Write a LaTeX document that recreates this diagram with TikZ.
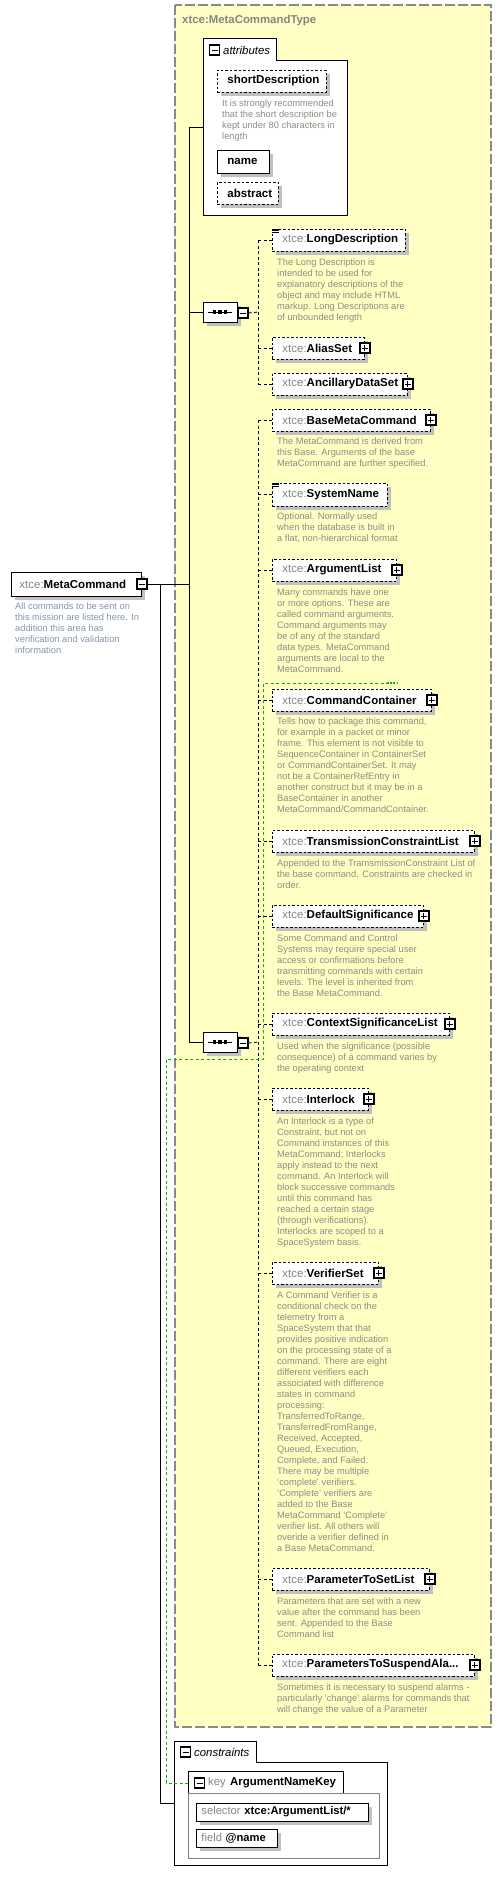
\documentclass[tikz,border=0pt]{standalone}
\usepackage{fontspec}
\setmainfont{Liberation Sans}
\usetikzlibrary{shadows,shapes.misc}

\definecolor{typefill}{HTML}{FFFFC4}
\definecolor{typeedge}{HTML}{8A8A8A}
\definecolor{prefix}{HTML}{858585}
\definecolor{desctext}{HTML}{8E8C84}
\definecolor{descblue}{HTML}{8494B0}
\definecolor{keygreen}{HTML}{00B400}
\definecolor{shadowgray}{HTML}{C0C0C0}

\newcommand{\xname}[1]{{\mdseries\color{prefix}xtce:}#1}

\tikzset{
  boxshadow/.style={drop shadow={shadow xshift=4pt,shadow yshift=-4pt,fill=shadowgray,opacity=1}},
  elem/.style={draw, dash pattern=on 2.5pt off 2pt, line width=0.9pt, fill=white, boxshadow,
    anchor=west, minimum height=22pt, inner xsep=10pt, inner ysep=0pt, align=left,
    text width=#1, font=\fontsize{11.5}{13}\selectfont\bfseries},
  solidelem/.style={elem=#1, solid},
  fieldbox/.style={draw, line width=0.9pt, fill=white, boxshadow, anchor=west,
    minimum height=18pt, inner xsep=5pt, inner ysep=0pt, align=left,
    text width=#1, font=\fontsize{11.2}{13}\selectfont\bfseries},
  desc/.style={anchor=north west, inner sep=0pt, align=left, text=desctext,
    font=\fontsize{9.3}{11}\selectfont, execute at begin node={\strut}},
  iconbox/.style={draw, line width=1.2pt, fill=white, minimum size=10pt, inner sep=0pt},
  minusbox/.style={iconbox,
    path picture={\draw[line width=0.9pt] ([xshift=2pt]path picture bounding box.west)
      -- ([xshift=-2pt]path picture bounding box.east);}},
  plusbox/.style={iconbox,
    path picture={\draw[line width=0.9pt] ([xshift=2pt]path picture bounding box.west)
      -- ([xshift=-2pt]path picture bounding box.east);
      \draw[line width=0.9pt] ([yshift=-2pt]path picture bounding box.north)
      -- ([yshift=2pt]path picture bounding box.south);}},
  seqbox/.style={chamfered rectangle, chamfered rectangle xsep=6pt, chamfered rectangle ysep=6pt,
    draw, line width=0.9pt, fill=white, boxshadow, minimum width=34pt, minimum height=20pt,
    inner sep=0pt},
  docicon/.style={fill=white, minimum width=7pt, minimum height=5pt, inner sep=0pt,
    path picture={\foreach \dy in {-1.6,0,1.6}
      \draw[line width=0.6pt] ([yshift=\dy pt]path picture bounding box.west)
      -- ([yshift=\dy pt]path picture bounding box.east);}},
  typebox/.style={draw=typeedge, fill=typefill, line width=1.1pt, dash pattern=on 10pt off 3pt},
  groupbox/.style={draw, fill=white, line width=0.9pt},
  tabtitle/.style={anchor=west, inner sep=0pt, font=\fontsize{11.4}{13}\selectfont\itshape},
  link/.style={draw, line width=0.9pt},
  optlink/.style={draw, line width=0.9pt, dash pattern=on 3pt off 2.5pt},
  keypath/.style={draw=keygreen, line width=0.9pt, dash pattern=on 3pt off 2.5pt},
}

\begin{document}
\begin{tikzpicture}[x=1pt,y=-1pt]
\useasboundingbox (0,0) rectangle (502,1883);

% complex type
\draw[typebox] (175,5) rectangle (491,1727);
\node[anchor=base west, inner sep=0pt, text=prefix, font=\fontsize{11.4}{13}\selectfont\bfseries]
  (typename) at (182,23) {xtce:MetaCommandType};

% attributes
\draw[groupbox] (203,38) -- (276,38) -- (276,60) -- (347,60) -- (347,215) -- (203,215) -- cycle;
\coordinate (attrin) at (203,127);
\node[minusbox] (attrm) at (214.5,50) {};
\node[tabtitle] (attrt) at (223,50) {attributes};
\node[elem=89pt] (sd) at (217,81) {shortDescription};
\node[desc] (sdd) at (222,100) {It is strongly recommended\\that the short description be\\kept under 80 characters in\\length};
\node[solidelem=32pt, minimum height=23pt] (nm) at (217,161.5) {name};
\node[elem=41pt] (ab) at (217,193) {abstract};

% element
\node[solidelem=114pt, inner xsep=8pt, minimum height=24pt] (mc) at (11,584) {\xname{MetaCommand}};
\node[minusbox] (mcm) at (mc.east) {};
\node[desc, text=descblue] (mcd) at (15,603) {All commands to be sent on\\this mission are listed here.  In\\addition this area has\\verification and validation\\information};

% sequences
\node[seqbox] (sq1) at (220,312) {};
\node[minusbox] (sq1m) at (243,313) {};
\node[seqbox] (sq2) at (220,1042) {};
\node[minusbox] (sq2m) at (243,1043) {};
\foreach \s in {sq1,sq2}{
  \draw[line width=1pt] ([xshift=-12pt]\s.center) -- ([xshift=12pt]\s.center);
  \foreach \dx in {-5.5,0,5.5}
    \fill ([xshift=\dx pt]\s.center) +(-1.9,-1.9) rectangle +(1.9,1.9);
}

% first sequence
\node[elem=113pt] (ld) at (272,240) {\xname{LongDescription}};
\node[docicon] (ldi) at (275.5,230.5) {};
\node[desc] (ldd) at (277,259) {The Long Description is\\intended to be used for\\explanatory descriptions of the\\object and may include HTML\\markup.  Long Descriptions are\\of unbounded length};
\node[elem=72pt] (as) at (272,348) {\xname{AliasSet}};
\node[plusbox] (asp) at (as.east) {};
\node[elem=115pt] (ads) at (272,384) {\xname{AncillaryDataSet}};
\node[plusbox] (adsp) at (ads.east) {};

% second sequence
\node[elem=138pt] (bmc) at (272,420) {\xname{BaseMetaCommand}};
\node[plusbox] (bmcp) at (bmc.east) {};
\node[desc] (bmcd) at (277,438) {The MetaCommand is derived from\\this Base.  Arguments of the base\\MetaCommand are further specified.};
\node[elem=95pt, minimum height=23pt] (sn) at (272,494.5) {\xname{SystemName}};
\node[docicon] (sni) at (275.5,484.5) {};
\node[desc] (snd) at (277,513) {Optional.  Normally used\\when the database is built in\\a flat, non-hierarchical format};
\node[elem=104pt] (al) at (272,570) {\xname{ArgumentList}};
\node[plusbox] (alp) at (al.east) {};
\node[desc] (ald) at (277,589) {Many commands have one\\or more options.  These are\\called command arguments.\\Command arguments may\\be of any of the standard\\data types.  MetaCommand\\arguments are local to the\\MetaCommand.};
\node[elem=139pt] (cc) at (272,700) {\xname{CommandContainer}};
\node[plusbox] (ccp) at (cc.east) {};
\node[desc] (ccd) at (277,718) {Tells how to package this command,\\for example in a packet or minor\\frame.  This element is not visible to\\SequenceContainer in ContainerSet\\or CommandContainerSet. It may\\not be a ContainerRefEntry in\\another construct but it may be in a\\BaseContainer in another\\MetaCommand/CommandContainer.};
\node[elem=182pt] (tcl) at (272,841) {\xname{TransmissionConstraintList}};
\node[plusbox] (tclp) at (tcl.east) {};
\node[desc] (tcld) at (277,860) {Appended to the TramsmissionConstraint List of\\the base command.  Constraints are checked in\\order.};
\node[elem=131pt] (ds) at (272,916) {\xname{DefaultSignificance}};
\node[plusbox] (dsp) at (ds.east) {};
\node[desc] (dsd) at (277,935) {Some Command and Control\\Systems may require special user\\access or confirmations before\\transmitting commands with certain\\levels.  The level is inherited from\\the Base MetaCommand.};
\node[elem=157pt] (csl) at (272,1024) {\xname{ContextSignificanceList}};
\node[plusbox] (cslp) at (csl.east) {};
\node[desc] (csld) at (277,1043) {Used when the significance (possible\\consequence) of a command varies by\\the operating context};
\node[elem=76pt] (il) at (272,1099) {\xname{Interlock}};
\node[plusbox] (ilp) at (il.east) {};
\node[desc] (ild) at (277,1118) {An Interlock is a type of\\Constraint, but not on\\Command instances of this\\MetaCommand; Interlocks\\apply instead to the next\\command.  An Interlock will\\block successive commands\\until this command has\\reached a certain stage\\(through verifications).\\Interlocks are scoped to a\\SpaceSystem basis.};
\node[elem=86pt] (vs) at (272,1273) {\xname{VerifierSet}};
\node[plusbox] (vsp) at (vs.east) {};
\node[desc] (vsd) at (277,1292) {A Command Verifier is a\\conditional check on the\\telemetry from a\\SpaceSystem that that\\provides positive indication\\on the processing state of a\\command.  There are eight\\different verifiers each\\associated with difference\\states in command\\processing:\\TransferredToRange,\\TransferredFromRange,\\Received, Accepted,\\Queued, Execution,\\Complete, and Failed.\\There may be multiple\\`complete' verifiers.\\`Complete' verifiers are\\added to the Base\\MetaCommand `Complete'\\verifier list.  All others will\\overide a verifier defined in\\a Base MetaCommand.};
\node[elem=137pt] (ptsl) at (272,1579) {\xname{ParameterToSetList}};
\node[plusbox] (ptslp) at (ptsl.east) {};
\node[desc] (ptsld) at (277,1598) {Parameters that are set with a new\\value after the command has been\\sent.  Appended to the Base\\Command list};
\node[elem=182pt] (ptsa) at (272,1665) {\xname{ParametersToSuspendAla...}};
\node[plusbox] (ptsap) at (ptsa.east) {};
\node[desc] (ptsad) at (277,1684) {Sometimes it is necessary to suspend alarms -\\particularly `change' alarms for commands that\\will change the value of a Parameter};

% constraints
\draw[groupbox] (174,1741) -- (256,1741) -- (256,1762) -- (387,1762) -- (387,1865) -- (174,1865) -- cycle;
\coordinate (consin) at (174,1803);
\node[minusbox] (consm) at (185.5,1752) {};
\node[tabtitle] (const) at (194,1752) {constraints};
\draw[draw=gray, line width=0.9pt] (188,1793) rectangle (379,1858);
\draw[line width=0.9pt] (188,1793) |- (343,1771) -- (343,1793);
\coordinate (keyin) at (188,1783);
\node[minusbox] (keym) at (199.5,1783) {};
\node[anchor=west, inner sep=0pt, text=prefix, font=\fontsize{11.2}{13}\selectfont] (keyk) at (208,1783) {key};
\node[anchor=west, inner sep=0pt, font=\fontsize{11.4}{13}\selectfont\bfseries] (keyn) at (230,1783) {ArgumentNameKey};
\node[fieldbox=162pt] (sel) at (196,1812) {{\mdseries\color{prefix}selector} xtce:ArgumentList/*};
\node[fieldbox=71pt] (fld) at (196,1838) {{\mdseries\color{prefix}field} @name};

% connectors
\coordinate (hub) at (189,584);
\coordinate (cbus) at (160,584);
\draw[link] (mcm.east) -- (hub);
\draw[link] (hub |- attrin) -- (attrin);
\draw[link] (hub |- attrin) -- (hub |- sq2.west) -- (sq2.west);
\draw[link] (hub |- sq1.west) -- (sq1.west);
\draw[link] (cbus) |- (consin);

\coordinate (t1) at (258,312);
\draw[optlink] (sq1m.east) -- (t1);
\draw[optlink] (t1 |- ld.west) -- (t1 |- ads.west);
\foreach \n in {ld,as,ads}
  \draw[optlink] (t1 |- \n.west) -- (\n.west);

\coordinate (t2) at (258,1042);
\draw[optlink] (sq2m.east) -- (t2);
\draw[optlink] (t2 |- bmc.west) -- (t2 |- ptsa.west);
\foreach \n in {bmc,sn,al,cc,tcl,ds,csl,il,vs,ptsl,ptsa}
  \draw[optlink] (t2 |- \n.west) -- (\n.west);

% key selector path
\coordinate (kend) at (387,683);
\draw[keypath] (keyin) -| (166,1059) -| (263,683) -- (kend);
\draw[keygreen, line width=1.6pt, dash pattern=on 1.6pt off 1.6pt] (kend) -- ++(10,0);
\end{tikzpicture}
\end{document}
